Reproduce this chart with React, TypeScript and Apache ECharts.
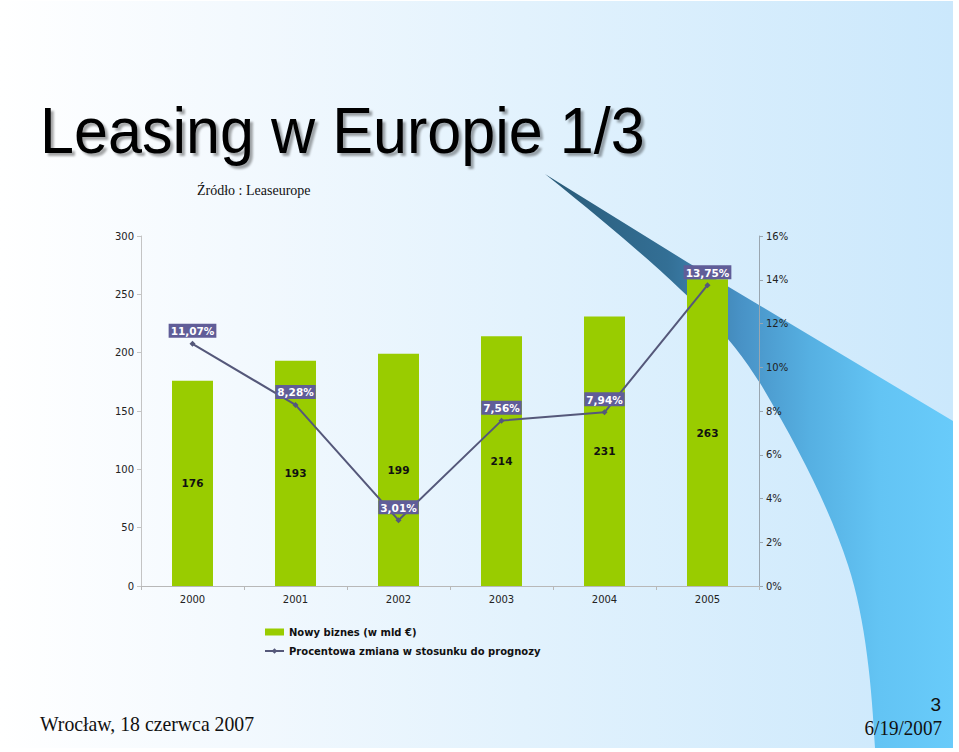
import React, { useEffect, useRef } from "react";
import * as echarts from "echarts";

const years = ["2000", "2001", "2002", "2003", "2004", "2005"];
const newBusiness = [176, 193, 199, 214, 231, 263];
const pctChange = [11.07, 8.28, 3.01, 7.56, 7.94, 13.75];
const leftAxis = { min: 0, max: 300, interval: 50 };
const rightAxis = { min: 0, max: 16, interval: 2 };

const SWOOSH_D =
  "M545,174 L687,262 L953,421 L953,748 L875,748 C872,690 866,620 848,565 C830,510 800,450 760,383 C730,335 690,290 545,174 Z";

let registered = false;
function ensureShape() {
  if (registered) return;
  echarts.graphic.registerShape("swoosh", echarts.graphic.extendPath(SWOOSH_D, {}) as any);
  registered = true;
}

const sans = "DejaVu Sans";

export default function App() {
  const ref = useRef<HTMLDivElement>(null);
  useEffect(() => {
    if (!ref.current) return;
    ensureShape();
    const chart = echarts.init(ref.current, null, { renderer: "svg" });
    chart.setOption({
      animation: false,
      backgroundColor: "#ffffff",
      grid: { left: 141, right: 200, top: 236, bottom: 166 },
      legend: {
        left: 264,
        top: 625,
        padding: 0,
        orient: "vertical",
        itemWidth: 19,
        itemHeight: 7,
        itemGap: 5,
        selectedMode: false,
        textStyle: { fontFamily: sans, fontWeight: "bold", fontSize: 10, color: "#111", lineHeight: 14 },
        data: [
          { name: "Nowy biznes (w mld €)", icon: "rect" },
          { name: "Procentowa zmiana w stosunku do prognozy" },
        ],
      },
      xAxis: {
        type: "category",
        data: years,
        boundaryGap: true,
        axisLine: { lineStyle: { color: "#b8b8b8" } },
        axisTick: { show: true, length: 4, lineStyle: { color: "#b8b8b8" } },
        axisLabel: { fontFamily: sans, fontSize: 10, color: "#222", margin: 8 },
      },
      yAxis: [
        {
          type: "value",
          min: leftAxis.min,
          max: leftAxis.max,
          interval: leftAxis.interval,
          position: "left",
          splitLine: { show: false },
          axisLine: { show: true, lineStyle: { color: "#c4c4c4" } },
          axisTick: { show: true, length: 4, lineStyle: { color: "#c4c4c4" } },
          axisLabel: { fontFamily: sans, fontSize: 10, color: "#222", margin: 7 },
        },
        {
          type: "value",
          min: rightAxis.min,
          max: rightAxis.max,
          interval: rightAxis.interval,
          position: "right",
          splitLine: { show: false },
          axisLine: { show: true, lineStyle: { color: "#9aa6b0" } },
          axisTick: { show: true, length: 4, lineStyle: { color: "#9aa6b0" } },
          axisLabel: { fontFamily: sans, fontSize: 10, color: "#222", margin: 7, formatter: "{value}%" },
        },
      ],
      series: [
        {
          name: "Nowy biznes (w mld €)",
          type: "bar",
          data: newBusiness,
          barWidth: 41,
          itemStyle: { color: "#99cc00" },
          label: {
            show: true,
            position: "inside",
            fontFamily: sans,
            fontWeight: "bold",
            fontSize: 10.5,
            color: "#111",
          },
          z: 2,
        },
        {
          name: "Procentowa zmiana w stosunku do prognozy",
          type: "line",
          yAxisIndex: 1,
          data: pctChange,
          symbol: "diamond",
          symbolSize: 6,
          lineStyle: { color: "#55587a", width: 2 },
          itemStyle: { color: "#55587a" },
          label: {
            show: true,
            position: "top",
            distance: 3,
            backgroundColor: "#605d98",
            padding: [2, 2, 1, 2],
            fontFamily: sans,
            fontWeight: "bold",
            fontSize: 10.5,
            lineHeight: 11,
            color: "#ffffff",
            formatter: (p: any) => Number(p.value).toFixed(2).replace(".", ",") + "%",
          },
          z: 3,
        },
      ],
      graphic: [
        {
          type: "rect",
          z: -20,
          silent: true,
          shape: { x: 0, y: 1, width: 953, height: 747 },
          style: {
            fill: {
              type: "linear",
              x: 0,
              y: 0,
              x2: 1,
              y2: 0,
              colorStops: [
                { offset: 0, color: "#ffffff" },
                { offset: 0.25, color: "#f3f9fe" },
                { offset: 0.55, color: "#e2f2fd" },
                { offset: 1, color: "#cbe8fc" },
              ],
            },
          },
        },
        {
          type: "swoosh",
          z: -19,
          silent: true,
          x: 0,
          y: 0,
          style: {
            fill: {
              type: "linear",
              x: 0,
              y: 0,
              x2: 1,
              y2: 0,
              colorStops: [
                { offset: 0, color: "#2a5b78" },
                { offset: 0.3, color: "#336f95" },
                { offset: 0.48, color: "#4892c6" },
                { offset: 0.65, color: "#56b0e2" },
                { offset: 0.82, color: "#63c4f4" },
                { offset: 1, color: "#68cbfa" },
              ],
            },
          },
        },
        {
          type: "text",
          z: 10,
          x: 40,
          y: 162,
          scaleX: 0.955,
          style: {
            text: "Leasing w Europie 1/3",
            fontFamily: "Liberation Sans",
            fontSize: 64,
            fill: "#000000",
            textAlign: "left",
            textVerticalAlign: "bottom",
            textShadowColor: "rgba(0,0,0,0.35)",
            textShadowOffsetX: 3,
            textShadowOffsetY: 3,
            textShadowBlur: 2,
          },
        },
        {
          type: "text",
          z: 10,
          x: 197,
          y: 197,
          style: {
            text: "Źródło : Leaseurope",
            fontFamily: "Liberation Serif",
            fontSize: 14,
            fill: "#111",
            textAlign: "left",
            textVerticalAlign: "bottom",
          },
        },
        {
          type: "text",
          z: 10,
          x: 40,
          y: 735,
          scaleX: 0.92,
          style: {
            text: "Wrocław, 18 czerwca 2007",
            fontFamily: "Liberation Serif",
            fontSize: 21.5,
            fill: "#111",
            textAlign: "left",
            textVerticalAlign: "bottom",
          },
        },
        {
          type: "text",
          z: 10,
          x: 941,
          y: 714,
          style: {
            text: "3",
            fontFamily: "Liberation Sans",
            fontSize: 19,
            fill: "#111",
            textAlign: "right",
            textVerticalAlign: "bottom",
          },
        },
        {
          type: "text",
          z: 10,
          x: 942,
          y: 738,
          scaleX: 0.956,
          style: {
            text: "6/19/2007",
            fontFamily: "Liberation Serif",
            fontSize: 20,
            fill: "#111",
            textAlign: "right",
            textVerticalAlign: "bottom",
          },
        },
      ],
    });
    return () => chart.dispose();
  }, []);
  return (
    <div
      ref={ref}
      style={{ position: "fixed", left: 0, top: 0, width: 959, height: 752 }}
    />
  );
}
